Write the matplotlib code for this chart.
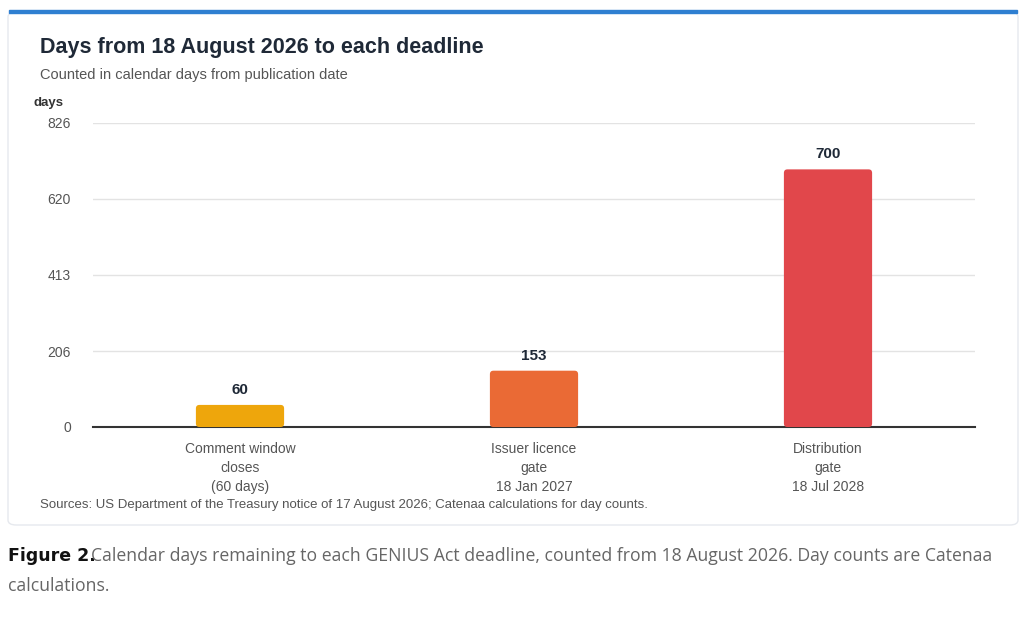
import matplotlib.pyplot as plt
from matplotlib.patches import FancyBboxPatch

plt.rcParams['font.family'] = ['Liberation Sans', 'DejaVu Sans']

categories = ["Comment window\ncloses\n(60 days)", "Issuer licence\ngate\n18 Jan 2027", "Distribution\ngate\n18 Jul 2028"]
days = [60, 153, 700]
colors = ["#eea60c", "#ea6a35", "#e1474b"]
yticks = [0, 206, 413, 620, 826]

W, H = 1024, 617
fig = plt.figure(figsize=(W / 100, H / 100), dpi=100)
fig.patch.set_facecolor("white")

# card with blue top border
card = FancyBboxPatch((8 / W, 1 - 525 / H), 1010 / W, 513 / H,
                      boxstyle="round,pad=0,rounding_size=0.008",
                      transform=fig.transFigure, facecolor="white",
                      edgecolor="#e6e9ee", lw=1, zorder=-5)
fig.patches.append(card)
fig.patches.append(plt.Rectangle((9 / W, 1 - 13 / H), 1008 / W, 3 / H,
                                 transform=fig.transFigure, color="#2f7fd1", zorder=-4))

ax = fig.add_axes([93 / W, 1 - 427 / H, 882 / W, 304 / H])
ax.set_facecolor("none")
ax.set_xlim(-0.5, 2.5)
ax.set_ylim(0, 826)
for i, (v, c) in enumerate(zip(days, colors)):
    ax.add_patch(FancyBboxPatch((i - 0.15, 0), 0.3, v,
                                boxstyle="round,pad=0,rounding_size=0.012",
                                mutation_aspect=826 / 304 * 882 / 3,
                                facecolor=c, edgecolor="none", zorder=3))
    ax.text(i, v + 22, str(v), ha="center", va="bottom", fontsize=11,
            fontweight="bold", color="#1f2937")

ax.set_yticks(yticks)
ax.set_yticklabels([str(t) for t in yticks], fontsize=10, color="#555")
ax.set_xticks(range(3))
ax.set_xticklabels(categories, fontsize=10, color="#555", linespacing=1.45)
ax.tick_params(length=0, pad=11)
ax.tick_params(axis="y", pad=16)
ax.grid(axis="y", color="#e3e3e3", lw=1)
ax.set_axisbelow(True)
for s in ["top", "right", "left"]:
    ax.spines[s].set_visible(False)
ax.spines["bottom"].set_color("#333")
ax.spines["bottom"].set_linewidth(1.5)

fig.text(40 / W, 1 - 48 / H, "Days from 18 August 2026 to each deadline",
         fontsize=15.5, fontweight="bold", color="#1f2937", va="center")
fig.text(40 / W, 1 - 75 / H, "Counted in calendar days from publication date",
         fontsize=10.5, color="#555", va="center")
fig.text(33 / W, 1 - 103 / H, "days", fontsize=9.5, fontweight="bold", color="#333", va="center")
fig.text(40 / W, 1 - 505 / H,
         "Sources: US Department of the Treasury notice of 17 August 2026; Catenaa calculations for day counts.",
         fontsize=9.5, color="#555", va="center")

fig.text(8 / W, 1 - 556 / H, "Figure 2.", fontsize=12.5, fontweight="bold",
         color="#111", va="center", family="DejaVu Sans")
fig.text(91 / W, 1 - 556 / H,
         "Calendar days remaining to each GENIUS Act deadline, counted from 18 August 2026. Day counts are Catenaa",
         fontsize=12.7, color="#666", va="center", family="Open Sans")
fig.text(8 / W, 1 - 586 / H, "calculations.", fontsize=12.7, color="#666", va="center", family="Open Sans")

fig.savefig("out.png", dpi=100)
